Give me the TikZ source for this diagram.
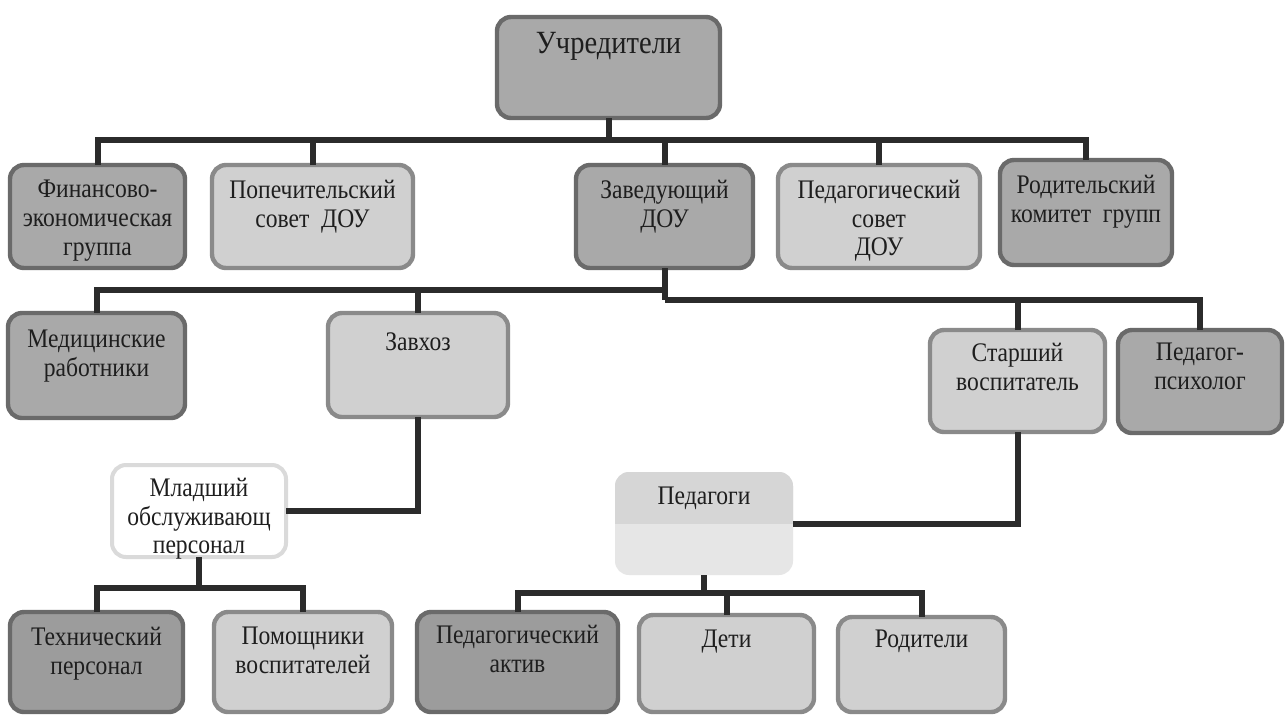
\documentclass[tikz,border=0pt]{standalone}
\usepackage{fontspec}
\setmainfont{Liberation Serif}
\newfontfamily\condfont[FakeStretch=0.88]{Liberation Serif}
\definecolor{darkfill}{HTML}{A9A9A9}
\definecolor{darkerfill}{HTML}{9C9C9C}
\definecolor{darkedge}{HTML}{6A6A6A}
\definecolor{lightfill}{HTML}{D0D0D0}
\definecolor{lightedge}{HTML}{8A8A8A}
\definecolor{whiteedge}{HTML}{DADADA}
\definecolor{pedtop}{HTML}{D6D6D6}
\definecolor{pedbottom}{HTML}{E6E6E6}
\definecolor{conncol}{HTML}{2B2B2B}
\definecolor{txt}{HTML}{1E1E1E}
\newcommand\bx[8]{%
  \node[#6, minimum width={(#4-#2)*0.5pt}, minimum height={(#5-#3)*0.5pt}] (#1) at ({(#2+#4)/2},{(#3+#5)/2}) {};
  \node[lbl] (#1t) at ({(#2+#4)/2},#8) {#7};
}
\begin{document}
\begin{tikzpicture}[x=0.5pt,y=-0.5pt,
  box/.style={rounded corners=7pt, line width=2.2pt, inner sep=0pt, outer sep=0pt},
  darkbox/.style={box, draw=darkedge, fill=darkfill},
  darkerbox/.style={box, draw=darkedge, fill=darkerfill},
  lightbox/.style={box, draw=lightedge, fill=lightfill},
  whitebox/.style={box, draw=whiteedge, fill=white, line width=2pt},
  pedbox/.style={box, draw=none, fill=pedbottom},
  lbl/.style={align=center, inner sep=0pt, text=txt, font=\condfont\fontsize{13.4}{14.3}\selectfont, anchor=north},
  conn/.style={draw=conncol, line width=3pt}]
\useasboundingbox (0,0) rectangle (1285,714);
\clip (0,0) rectangle (1285,714);
\fill[white] (0,0) rectangle (1285,714);

% level 1
\node[darkbox, minimum width={223*0.5pt}, minimum height={101*0.5pt}] (uch) at (608.5,67.5) {};
\node[lbl, font=\condfont\fontsize{16.2}{18}\selectfont] (ucht) at (608.5,32) {Учредители};

% level 2
\bx{fin}{10}{165}{185}{268}{darkbox}{Финансово-\\экономическая\\группа}{180}
\bx{pop}{212}{165}{413}{268}{lightbox}{Попечительский\\совет\ \ ДОУ}{180}
\bx{zav}{576}{165}{753}{268}{darkbox}{Заведующий\\ДОУ}{180}
\bx{sov}{778}{165}{980}{268}{lightbox}{Педагогический\\совет\\ДОУ}{180}
\bx{rod}{1000}{160}{1172}{265}{darkbox}{Родительский\\комитет\ \ групп}{175}

% level 3
\bx{med}{8}{313}{185}{418}{darkbox}{Медицинские\\работники}{330}
\bx{zavh}{328}{313}{508}{417}{lightbox}{Завхоз}{332}
\bx{star}{930}{330}{1105}{432}{lightbox}{Старший\\воспитатель}{343}
\bx{psy}{1118}{330}{1282}{433}{darkbox}{Педагог-\\психолог}{343}
\bx{mlad}{112}{465}{286}{557}{whitebox}{Младший\\обслуживающ\\персонал}{478}

% Pedagogi (two-tone, no border)
\node[pedbox, minimum width={178*0.5pt}, minimum height={103*0.5pt}] (ped) at (704,523.5) {};
\begin{scope}
  \clip (ped.north west) rectangle (ped.east);
  \fill[pedtop, rounded corners=7pt] (ped.north west) rectangle (ped.south east);
\end{scope}
\node[lbl] (pedt) at (704,487) {Педагоги};

% level 4
\bx{tech}{10}{612}{183}{712}{darkerbox}{Технический\\персонал}{627}
\bx{pom}{214}{612}{392}{712}{lightbox}{Помощники\\воспитателей}{627}
\bx{akt}{417}{612}{618}{712}{darkerbox}{Педагогический\\актив}{625}
\bx{deti}{639}{615}{814}{712}{lightbox}{Дети}{630}
\bx{rodit}{838}{617}{1005}{712}{lightbox}{Родители}{630}

% junctions
\coordinate (j1) at (uch.south |- 0,140);
\coordinate (j2l) at (zav.south |- 0,290);
\coordinate (j2r) at (zav.south |- 0,300);
\coordinate (j3) at (mlad.south |- 0,588);
\coordinate (j4) at (ped.south |- 0,593);

% connectors
\draw[conn] (uch.south) -- (j1);
\draw[conn] (fin.north) |- (j1);
\draw[conn] (pop.north) |- (j1);
\draw[conn] (zav.north) |- (j1);
\draw[conn] (sov.north) |- (j1);
\draw[conn] (rod.north) |- (j1);

\draw[conn] (zav.south) -- (j2r);
\draw[conn] (med.north) |- (j2l);
\draw[conn] (zavh.north) |- (j2l);
\draw[conn] (star.north) |- (j2r);
\draw[conn] (psy.north) |- (j2r);

\draw[conn] (zavh.south) |- (mlad.east);
\draw[conn] (mlad.south) -- (j3);
\draw[conn] (tech.north) |- (j3);
\draw[conn] (pom.north) |- (j3);

\draw[conn] (star.south) |- (ped.east);
\draw[conn] (ped.south) -- (j4);
\draw[conn] (akt.north) |- (j4);
\draw[conn] (deti.north) |- (j4);
\draw[conn] (rodit.north) |- (j4);
\end{tikzpicture}
\end{document}
